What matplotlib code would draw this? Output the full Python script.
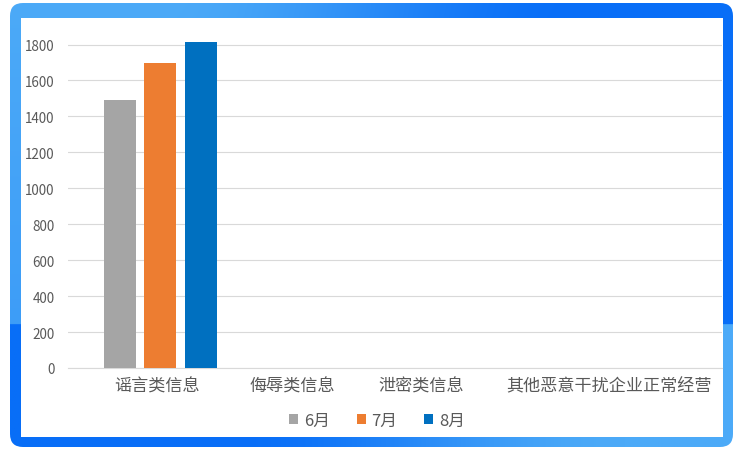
import matplotlib
matplotlib.use('Agg')
import matplotlib.pyplot as plt
from matplotlib.patches import FancyBboxPatch, Rectangle
import numpy as np

plt.rcParams['font.family'] = ['Noto Sans CJK SC', 'DejaVu Sans']

# data
categories = ['谣言类信息', '侮辱类信息', '泄密类信息', '其他恶意干扰企业正常经营']
months = ['6月', '7月', '8月']
jun = [1490, 0, 0, 0]
jul = [1695, 0, 0, 0]
aug = [1815, 0, 0, 0]
series = [jun, jul, aug]
colors = ['#a5a5a5', '#ed7d31', '#0070c0']

W, H = 743, 460
fig = plt.figure(figsize=(W / 100, H / 100), dpi=100)

# blue rounded frame: upper part light->deep, lower part deep->light
bg = fig.add_axes([0, 0, 1, 1], zorder=-1)
bg.set_xlim(0, W)
bg.set_ylim(H, 0)
bg.axis('off')
light = np.array([0x4c, 0xaa, 0xf8]) / 255
deep = np.array([0x08, 0x6e, 0xf7]) / 255


def smooth(t):
    t = np.clip(t, 0, 1)
    return t * t * (3 - 2 * t)


u = np.linspace(0, 1, 400)
v = np.linspace(0, 1, 300)
uu, vv = np.meshgrid(u, v)
split = (325 - 4) / 444
t_top = np.clip(smooth((uu - 0.2) / 0.6) + 0.3 * vv, 0, 1)
t_bot = 1 - smooth((uu - 0.3) / 0.55)
t = np.where(vv < split, t_top, t_bot)[..., None]
grad = light + (deep - light) * t
img = bg.imshow(grad, extent=(10, 733, 448, 4), aspect='auto', origin='upper')
clip = FancyBboxPatch((10, 4), 723, 444, boxstyle='round,pad=0,rounding_size=13',
                      transform=bg.transData, facecolor='none', edgecolor='none')
bg.add_patch(clip)
img.set_clip_path(clip)
bg.add_patch(Rectangle((21, 19), 702, 419, facecolor='white', edgecolor='none'))

# chart area
y_top = 1830
px_per_unit = 323.5 / 1800
ax = fig.add_axes([68 / W, 91 / H, 654 / W, y_top * px_per_unit / H])
ax.set_facecolor('none')

x = np.arange(len(categories))
width = 0.215
offsets = [-0.267, 0.0, 0.273]
for vals, off, col, lab in zip(series, offsets, colors, months):
    ax.bar(x + off, vals, width, color=col, label=lab, zorder=3)

ax.set_xlim(-0.613, 3.747)
ax.set_ylim(0, y_top)
ax.set_yticks(range(0, 2000, 200))
ax.grid(axis='y', color='#d9d9d9', linewidth=0.8, zorder=0)
for s in ['top', 'right', 'left']:
    ax.spines[s].set_visible(False)
ax.spines['bottom'].set_color('#d9d9d9')
ax.spines['bottom'].set_linewidth(0.8)

# category label positions as laid out in the reference
ax.set_xticks([-0.017, 0.883, 1.743, 2.997])
ax.set_xticklabels(categories, fontsize=12.3, color='#595959')
ax.tick_params(axis='x', length=0, pad=6)
ax.tick_params(axis='y', length=0, pad=9.5, labelsize=9.7, labelcolor='#595959')

fig.legend(loc='center', bbox_to_anchor=(377 / W, 1 - 421 / H), ncol=3, frameon=False,
           fontsize=12, handlelength=0.55, handleheight=0.55, handletextpad=0.35,
           columnspacing=1.6, labelcolor='#595959')

plt.savefig('out.png', dpi=100)
